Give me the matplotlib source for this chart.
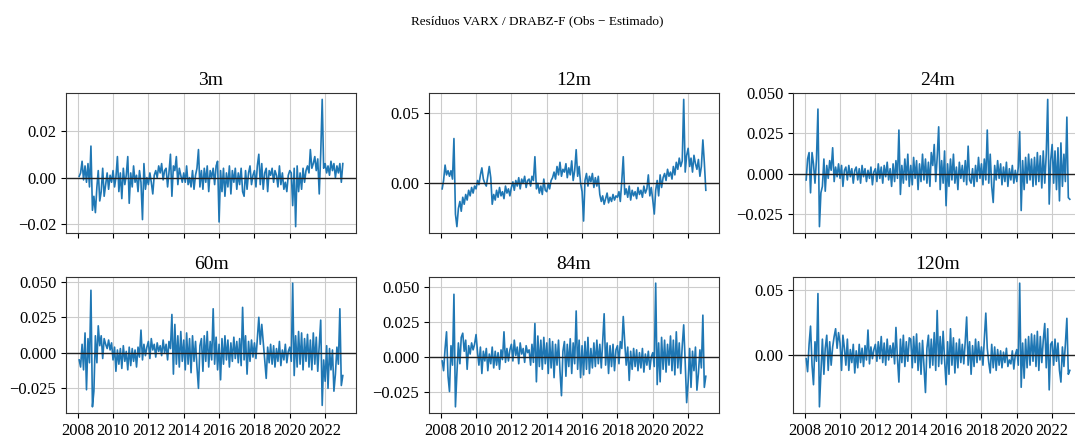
import matplotlib
matplotlib.use("Agg")
import matplotlib.pyplot as plt
import matplotlib.dates as mdates
import numpy as np
import pandas as pd

plt.rcParams['font.family'] = ['Liberation Serif', 'DejaVu Serif']

# residuos mensais (x 0.001), fev/2008 .. jan/2023
datas = pd.date_range('2008-02-01', periods=180, freq='MS')

res_3m = [
    0.5, 2, 7, -1, 5, -2, 6, -4, 13.5, -14, -8,
    -15, -4, 3, -10, -6, 4, -8, -3, 2, -5, 1, -2,
    3, -4, 0, 9, -6, 2, -9, 4, -3, 1, 9, -11,
    2, -4, 5, -2, 1, -6, 3, -2, -18, 6, -5, 0,
    -3, 2, -2, -7, 1, 3, 0, 5, 2, 6, -1, 3,
    4, -4, 2, 10, -8, 5, 3, 9, -3, 4, 1, -2,
    2, -2, 5, -3, 0, -4, 3, -5, 1, 4, 12, -4,
    3, -5, 4, -2, 5, -6, 3, 0, 4, -3, 5, 7,
    -19, 3, -6, 4, -8, 2, -4, 5, -7, 3, -2, 4,
    -5, 2, -3, 4, -6, -8, 3, -5, 2, 5, -3, 1,
    3, -4, 5, 10, -3, 6, -5, 2, 4, -6, 3, 1,
    4, -2, 3, 1, -4, 5, -3, 2, -5, -2, -6, 1,
    3, 2, -12, 4, -21, 5, -6, 2, -5, 4, -2, 3,
    5, 2, 12, 4, 6, 9, 3, 8, -7, 10, 33.5, 4,
    6, 2, 5, 1, 7, 3, 6, 0, 5, 2, 6, -2,
    6,
]
res_12m = [
    -4, 2, 13, 6, 9, 5, 9, 3, 32, -22, -31,
    -18, -13, -20, -10, -15, -8, -12, -5, -9, -3, -7, -2,
    -4, 2, -1, 6, 11, 3, 0, -2, 5, 12, 4, -15,
    -8, -12, -5, -10, -3, -9, -6, -11, -2, -7, -4, -9,
    -3, 1, -5, 2, -2, 4, -4, 3, 0, 5, -3, 2,
    3, -2, 5, 2, 19, -4, 0, -7, -2, -8, 3, -5,
    -6, 0, -4, 2, 4, 8, 3, 12, 6, 15, 5, 10,
    8, 14, 4, 11, 6, 16, 2, 9, 24, 5, 12, 0,
    -6, -27, 2, 7, -2, 5, 1, 7, -3, 4, -2, 5,
    -8, -13, -9, -15, -11, -7, -14, -10, -13, -8, -12, -9,
    -10, -6, -13, 2, 19, -8, -4, -10, -2, -12, -5, -9,
    -6, -11, -3, -8, -5, -10, -2, -7, -4, 6, -9, -3,
    -12, -22, -5, 2, -9, 6, -3, 4, 7, 2, 10, 5,
    8, 3, 12, 6, 15, 10, 18, 12, 16, 60, 8, 20,
    25, 12, 18, 8, 20, 14, 10, 17, 5, 12, 31, 15,
    -5,
]
res_24m = [
    -4, 9, 13, -12, 13, 6, -6, 9, 40, -33, -12,
    -8, 9, -11, 5, -3, 8, 2, 16, -5, 4, -2, 6,
    -3, 5, -8, 2, 4, -4, 5, -2, 3, -6, 2, 4,
    -4, 3, -6, 5, -2, 3, -5, 2, -3, 4, -7, 1,
    3, -5, 6, -3, 4, -6, 5, -2, 7, -4, 3, -8,
    6, -5, 8, -3, 27, -13, 5, -6, 9, -4, 12, -8,
    5, -7, 10, -3, 8, -10, 6, -5, 12, -4, 9, -6,
    7, -8, 13, 5, 18, -5, 10, 29, -10, 8, -6, 14,
    -20, 6, -8, 9, -4, 12, -6, 4, -10, 7, -3, 5,
    -5, 8, -7, 17, -4, -6, 3, -8, 5, -5, 10, -3,
    6, -7, 9, -4, 27, -6, 12, -8, -18, 5, -4, 8,
    -3, 6, -7, 4, -5, 7, -8, 3, -4, 5, -6, 2,
    -5, 4, 26, -23, 8, -10, 10, -6, 12, -4, 9, -8,
    10, -7, 13, -5, 11, -9, 14, -6, 12, 46, -19, 8,
    18, -6, 14, -10, 16, -17, 19, -8, 12, -5, 35, -15,
    -16,
]
res_60m = [
    -5, -10, 6, -12, 14, -26, 10, -7, 44, -38, -27,
    12, -7, 19, 5, 12, -4, 10, 6, 3, 9, 2, 7,
    -5, 4, -13, 2, -8, 3, -11, 5, -6, 1, -12, 4,
    -9, 3, -6, 2, -10, 4, -3, 16, -5, 6, -2, 4,
    8, -4, 10, 2, 6, -3, 7, 1, 5, -2, 9, 0,
    6, -5, 8, 3, 27, -15, 20, -8, 12, -10, 15, -6,
    9, -12, 14, -8, 10, -14, 12, -6, 8, -10, -25, 5,
    10, -13, 12, -6, 15, -10, 8, -5, 31, -8, 11, -12,
    6, -19, 10, -8, 12, -5, 9, -10, 7, -6, 11, -4,
    8, -7, 10, -9, 32, -5, 12, -15, 8, -6, 9, -3,
    7, -4, 10, 25, 6, 20, 8, -5, -18, 4, -7, 6,
    -8, 5, -10, 3, -6, 8, -9, 2, -5, 6, -7, 1,
    4, -6, 49, -16, 12, -10, 15, -8, 14, -12, 10, -6,
    13, -10, 9, -12, 14, -8, 11, -13, 6, 23, -37, -5,
    -20, 5, -25, 3, -12, 2, -27, -15, 4, -8, 31, -23,
    -16,
]
res_84m = [
    -3, -10, 6, 18, -14, -25, 8, -6, 45, -36, -12,
    10, -5, 14, 17, 4, 12, -9, 8, 2, 10, 5, 9,
    16, 3, -6, 7, -12, 4, -3, 6, -10, 2, -5, 7,
    -8, 4, -6, 3, -9, 5, -2, 18, -4, 6, -3, 5,
    9, -3, 12, 1, 7, -5, 10, 2, 6, -4, 8, 3,
    5, -6, 9, -4, 24, -18, 15, -7, 12, -9, 14, -5,
    10, -12, 13, -8, 11, -15, 9, -6, 12, -10, -28, 4,
    11, -14, 9, -7, 13, -12, 10, -5, 33, -9, 12, -15,
    8, -13, 11, -9, 14, -12, 6, -8, 10, -7, 12, -5,
    9, -8, 11, 31, -6, 10, -12, 8, -7, 9, -10, 5,
    8, -5, 11, 6, 29, 10, -6, 7, -17, 4, -9, 6,
    -7, 5, -10, 3, -8, 6, -11, 2, -6, 4, -9, 0,
    3, -7, 53, -20, 10, -18, 14, -9, 12, -11, 9, -6,
    15, -10, 12, -13, 18, -8, 10, -12, 8, 23, -4, -33,
    -18, 6, -22, 4, -10, 7, -24, -12, 5, -8, 30, -22,
    -14,
]
res_120m = [
    -3, -13, 8, 22, -8, -23, 10, -5, 47, -40, -15,
    12, -15, 5, 15, -12, 10, -8, 6, 14, 20, 5, 17,
    9, -12, 15, 5, -8, 12, -12, 4, -6, 8, -14, 3,
    -10, 8, -6, 5, -9, 7, -4, 19, -7, 6, -3, 4,
    8, -5, 10, -3, 14, -6, 9, -8, 12, -4, 7, -2,
    9, -7, 21, -3, -21, 12, -6, 15, -9, 10, -5, 13,
    12, -10, 14, -6, 16, -12, 9, -15, 11, -8, -29, 5,
    15, -10, 12, -8, 17, -12, 34, -9, 14, -7, 18, -4,
    -23, 10, -15, 20, -8, 13, -14, 9, -10, 12, -6, 8,
    -7, 11, 29, -8, 10, -15, 7, -9, 12, -6, 10, -4,
    6, -8, 12, 32, 5, -6, -14, 8, -10, 6, -12, 4,
    -8, 3, -10, 2, -6, 5, -9, -4, -7, 3, -11, 0,
    4, -8, 55, -25, 9, -18, 12, -10, 14, -8, 16, -5,
    15, -9, 18, -12, 14, -6, 11, 24, -10, 20, -27, 8,
    10, -8, 12, -5, 9, -12, -21, 6, -9, 8, 28, -15,
    -12,
]

maturidades = ['3m', '12m', '24m', '60m', '84m', '120m']
series = [res_3m, res_12m, res_24m, res_60m, res_84m, res_120m]
yticks = [
    [-0.02, 0.0, 0.02],
    [0.0, 0.05],
    [-0.025, 0.0, 0.025, 0.05],
    [-0.025, 0.0, 0.025, 0.05],
    [-0.025, 0.0, 0.025, 0.05],
    [0.0, 0.05],
]
ydec = [2, 2, 3, 3, 3, 2]


def fmt_factory(n):
    def f(v, pos):
        s = f'{v:.{n}f}'
        return s.replace('-', '\u2212')
    return f


W, H = 1075, 437
fig = plt.figure(figsize=(W / 100, H / 100), dpi=100)

# posicoes em pixels (esquerda, topo, largura, altura)
lefts = [66, 429, 793]
rows = [(93, 140), (277, 136)]

axes = []
for i, (nome, vals) in enumerate(zip(maturidades, series)):
    r, c = divmod(i, 3)
    top, h = rows[r]
    ax = fig.add_axes([lefts[c] / W, (H - top - h) / H, 290 / W, h / H])
    y = np.array(vals) / 1000.0
    ax.plot(datas, y, color='#1f77b4', lw=1.2)
    ax.axhline(0, color='#222222', lw=1.0)
    ax.set_title(nome, fontsize=14)
    ax.grid(True, color='#cccccc', lw=0.8)
    ax.set_axisbelow(True)
    ax.set_yticks(yticks[i])
    ax.yaxis.set_major_formatter(plt.FuncFormatter(fmt_factory(ydec[i])))
    ax.xaxis.set_major_locator(mdates.YearLocator(2))
    ax.xaxis.set_major_formatter(mdates.DateFormatter('%Y'))
    ax.tick_params(labelsize=12)
    if r == 0:
        ax.tick_params(labelbottom=False)
    for s in ax.spines.values():
        s.set_color('#333333')
    axes.append(ax)

fig.suptitle('Resíduos VARX / DRABZ-F (Obs − Estimado)', fontsize=9.5, y=0.965)

fig.savefig('out.png', dpi=100)
